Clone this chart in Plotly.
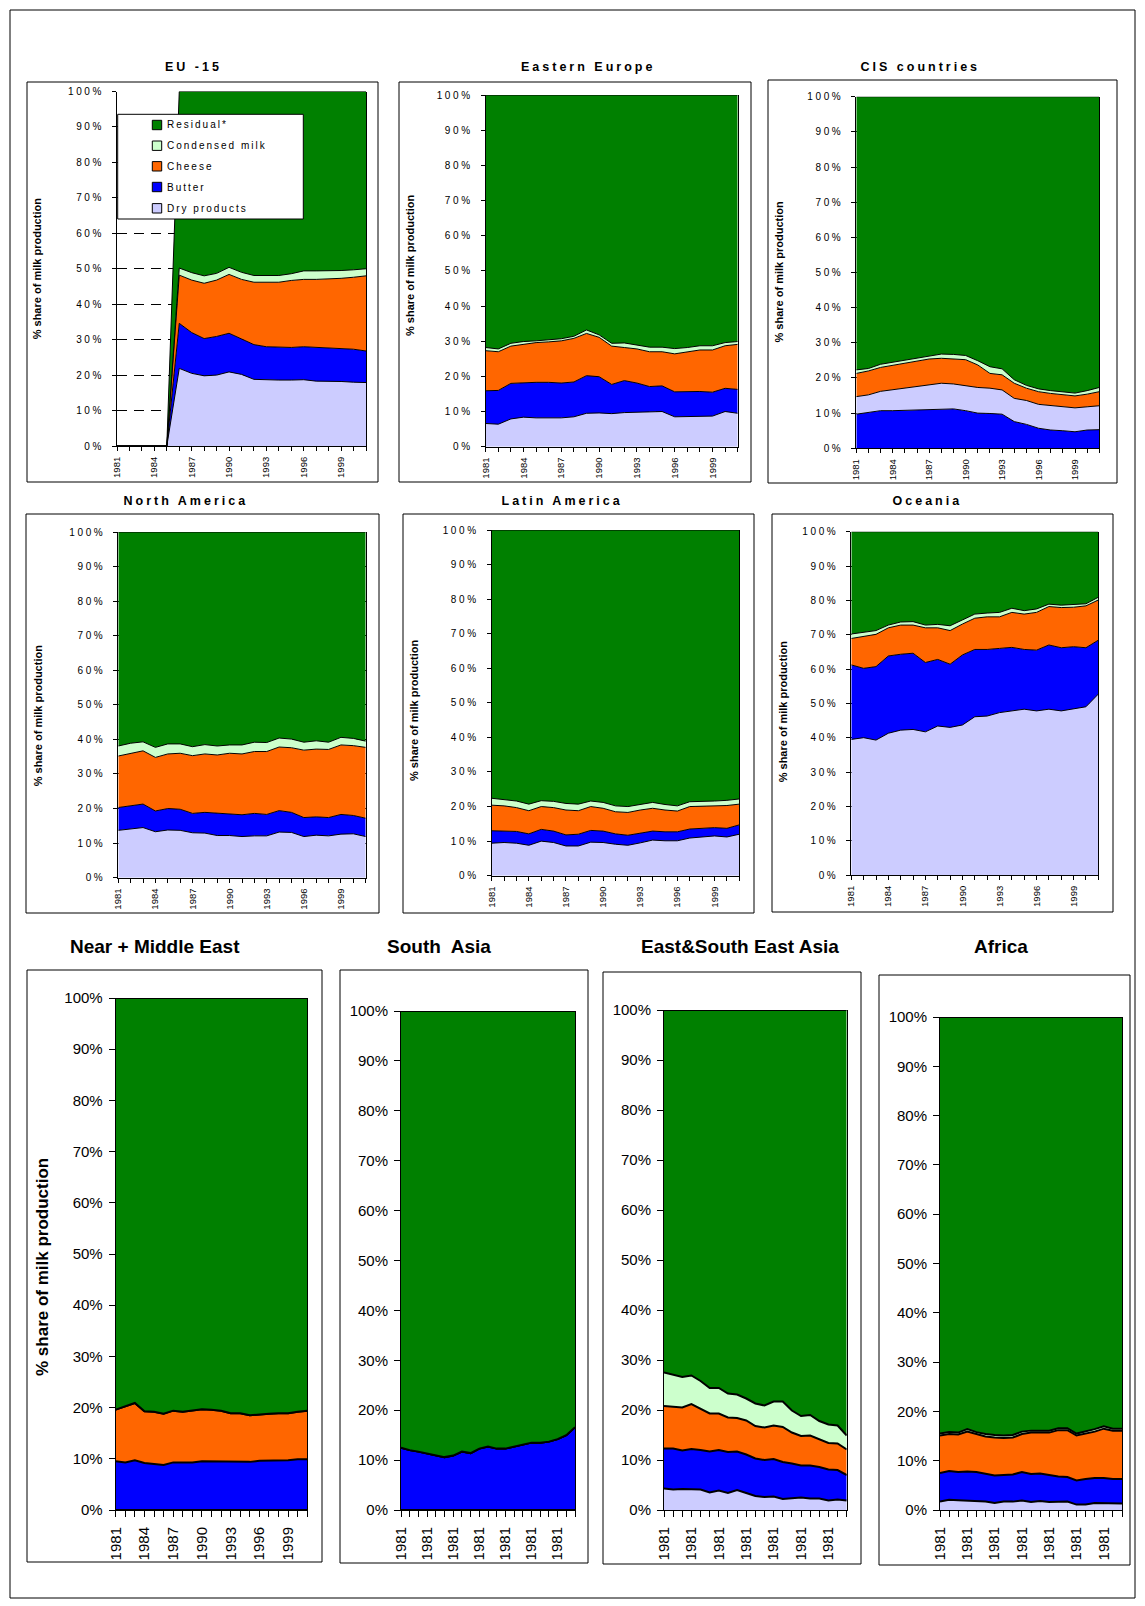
import plotly.graph_objects as go

W, H = 1145, 1606
FONT = "Arial, 'Liberation Sans', sans-serif"

YEARS = list(range(1981, 2002))
TICKS_YEARS = ["1981", "", "", "1984", "", "", "1987", "", "", "1990", "", "",
               "1993", "", "", "1996", "", "", "1999", "", ""]
TICKS_REPEAT = ["1981", "", "", "1981", "", "", "1981", "", "", "1981", "", "",
                "1981", "", "", "1981", "", "", "1981", "", ""]
PCT_VALS = [0, 10, 20, 30, 40, 50, 60, 70, 80, 90, 100]
PCT_TEXT = ["0%", "10%", "20%", "30%", "40%", "50%", "60%", "70%", "80%", "90%", "100%"]

SERIES = ["Residual*", "Condensed milk", "Cheese", "Butter", "Dry products"]
FILL = {
    "Dry products": "#CCCCFF",
    "Butter": "#0000FF",
    "Cheese": "#FF6600",
    "Condensed milk": "#CCFFCC",
    "Residual*": "#008000",
}

# ---- shares of milk production (%), 1981-2001 ----
eu15_dry = [0, 0, 0, 0, 0, 21.9, 20.5, 19.8, 20.0, 20.9, 20.2, 18.8, 18.6, 18.6, 18.6, 18.7, 18.3, 18.3, 18.2, 18.0, 17.9]
eu15_butter = [0, 0, 0, 0, 0, 12.7, 11.5, 10.5, 10.9, 10.9, 9.9, 9.8, 9.4, 9.2, 9.2, 9.3, 9.5, 9.4, 9.4, 9.3, 8.9]
eu15_cheese = [0, 0, 0, 0, 0, 13.6, 14.8, 15.6, 15.9, 16.6, 16.9, 17.6, 18.2, 18.4, 18.9, 19.0, 19.2, 19.4, 19.7, 20.3, 21.2]
eu15_condensed = [0, 0, 0, 0, 0, 2.0, 2.1, 2.1, 1.9, 2.0, 2.0, 1.9, 1.9, 1.9, 1.9, 2.4, 2.4, 2.3, 2.2, 2.1, 2.0]

ee_dry = [6.6, 6.4, 7.9, 8.4, 8.2, 8.2, 8.2, 8.5, 9.5, 9.6, 9.4, 9.7, 9.8, 10.0, 10.0, 8.5, 8.6, 8.7, 8.7, 10.0, 9.5]
ee_butter = [9.3, 9.6, 10.1, 9.8, 10.1, 10.1, 9.9, 9.9, 10.7, 10.3, 8.3, 9.1, 8.3, 7.1, 7.3, 7.1, 7.1, 7.0, 6.8, 6.6, 6.8]
ee_cheese = [11.4, 11.0, 10.6, 11.0, 11.3, 11.5, 12.0, 12.4, 12.0, 11.2, 10.9, 9.4, 9.7, 9.9, 9.7, 10.8, 11.3, 11.8, 12.0, 12.1, 12.8]
ee_condensed = [0.9, 0.8, 0.8, 0.7, 0.5, 0.6, 0.6, 0.6, 1.0, 0.7, 0.8, 1.3, 1.2, 1.3, 1.3, 1.5, 1.2, 1.2, 1.2, 0.9, 0.8]

cis_dry = [5.0, 5.1, 5.5, 6.0, 6.2, 6.5, 7.0, 7.2, 7.1, 7.1, 7.3, 7.2, 6.9, 6.6, 6.8, 6.8, 6.9, 6.7, 6.8, 6.6, 6.8]
cis_butter = [9.7, 10.1, 10.7, 10.7, 10.8, 11.0, 11.2, 11.3, 11.2, 10.7, 10.0, 9.9, 9.7, 7.6, 6.8, 5.7, 5.2, 5.0, 4.7, 5.2, 5.3]
cis_cheese = [6.6, 6.8, 6.8, 6.9, 7.4, 7.3, 7.2, 7.1, 7.2, 7.4, 6.4, 4.2, 4.3, 4.3, 3.5, 3.6, 3.5, 3.5, 3.4, 3.6, 4.0]
cis_condensed = [1.0, 0.7, 0.9, 0.9, 0.7, 0.9, 1.0, 1.2, 1.2, 1.2, 1.2, 1.9, 1.7, 1.0, 0.8, 0.8, 0.8, 0.8, 0.8, 1.0, 1.2]

na_dry = [13.7, 14.2, 14.5, 13.3, 13.8, 13.7, 13.0, 12.9, 12.2, 12.2, 11.9, 12.1, 12.1, 13.2, 13.1, 11.9, 12.3, 12.1, 12.6, 12.7, 11.9]
na_butter = [6.6, 6.7, 6.8, 6.0, 6.2, 6.1, 5.6, 6.0, 6.4, 6.3, 6.3, 6.5, 6.2, 6.2, 5.8, 5.5, 5.3, 5.3, 5.7, 5.3, 5.3]
na_cheese = [14.9, 15.1, 15.4, 15.5, 15.8, 16.2, 16.7, 16.9, 16.9, 17.5, 17.6, 17.9, 18.2, 18.4, 18.7, 19.5, 19.6, 19.7, 20.1, 20.2, 20.5]
na_condensed = [2.9, 2.9, 2.6, 2.9, 2.9, 2.7, 2.6, 2.7, 2.6, 2.4, 2.6, 2.7, 2.6, 2.6, 2.5, 2.3, 2.4, 2.1, 2.2, 2.1, 1.8]

la_dry = [9.4, 9.6, 9.4, 8.8, 10.0, 9.6, 8.6, 8.6, 9.7, 9.6, 9.1, 8.8, 9.5, 10.3, 10.1, 10.1, 10.9, 11.3, 11.5, 11.2, 12.0]
la_butter = [3.6, 3.4, 3.4, 3.3, 3.4, 3.3, 3.2, 3.4, 3.4, 3.3, 3.0, 2.9, 2.7, 2.6, 2.6, 2.6, 2.6, 2.4, 2.4, 2.5, 2.7]
la_cheese = [7.4, 7.2, 6.9, 6.7, 6.6, 6.8, 7.2, 6.8, 6.9, 6.6, 6.4, 6.6, 6.8, 6.6, 6.3, 6.0, 6.5, 6.4, 6.3, 6.6, 6.0]
la_condensed = [2.0, 1.9, 1.9, 1.9, 1.7, 1.8, 1.9, 1.9, 1.6, 1.7, 1.7, 1.7, 1.6, 1.7, 1.6, 1.5, 1.4, 1.3, 1.4, 1.5, 1.5]

oc_dry = [39.5, 40.0, 39.3, 41.3, 42.2, 42.4, 41.7, 43.4, 43.0, 43.7, 46.1, 46.3, 47.3, 47.9, 48.3, 47.8, 48.3, 47.8, 48.5, 49.0, 52.7]
oc_butter = [21.7, 20.2, 21.4, 22.5, 22.1, 22.2, 20.2, 19.4, 18.4, 20.4, 19.6, 19.4, 18.7, 18.4, 17.4, 17.7, 18.7, 18.4, 18.0, 17.2, 15.7]
oc_cheese = [7.7, 9.4, 9.4, 8.2, 8.5, 8.2, 10.1, 9.2, 9.8, 9.0, 9.1, 9.5, 9.2, 10.2, 10.3, 11.0, 11.2, 11.7, 11.5, 12.2, 11.7]
oc_condensed = [1.3, 1.1, 1.1, 0.8, 0.9, 1.0, 0.8, 1.0, 1.4, 1.2, 1.2, 1.1, 1.3, 1.2, 1.0, 1.0, 0.7, 0.7, 0.7, 0.6, 0.8]

nme_dry = [0] * 21
nme_butter = [9.5, 9.3, 9.7, 9.2, 9.0, 8.8, 9.3, 9.3, 9.3, 9.5, 9.5, 9.5, 9.4, 9.4, 9.4, 9.6, 9.6, 9.7, 9.7, 9.9, 9.9]
nme_cheese = [10.1, 11.0, 11.2, 10.1, 10.2, 10.0, 10.1, 9.9, 10.2, 10.2, 10.1, 9.9, 9.5, 9.5, 9.1, 9.1, 9.2, 9.2, 9.2, 9.3, 9.5]
nme_condensed = [0] * 21

sa_dry = [0] * 21
sa_butter = [12.5, 12.0, 11.7, 11.3, 10.9, 10.6, 10.9, 11.7, 11.4, 12.3, 12.7, 12.3, 12.3, 12.7, 13.0, 13.5, 13.5, 13.7, 14.2, 15.0, 16.6]
sa_cheese = [0] * 21
sa_condensed = [0] * 21

esea_dry = [4.3, 4.1, 4.2, 4.1, 4.1, 3.5, 3.9, 3.4, 4.0, 3.4, 2.8, 2.6, 2.7, 2.2, 2.3, 2.5, 2.3, 2.3, 1.9, 2.1, 1.9]
esea_butter = [8.0, 8.2, 7.7, 8.1, 7.9, 8.2, 8.1, 8.2, 7.7, 7.7, 7.5, 7.4, 7.5, 7.4, 7.0, 6.4, 6.6, 6.3, 6.2, 5.9, 5.1]
esea_cheese = [8.5, 8.3, 8.6, 9.0, 8.2, 7.6, 7.3, 6.9, 6.7, 6.8, 6.5, 6.5, 6.7, 7.0, 6.2, 5.9, 6.0, 5.6, 5.3, 5.3, 5.1]
esea_condensed = [6.7, 6.5, 6.1, 5.7, 5.6, 5.1, 5.1, 4.8, 4.7, 4.4, 4.5, 4.4, 4.8, 5.1, 4.4, 4.0, 4.1, 3.6, 3.7, 3.6, 2.8]

af_dry = [1.7, 2.1, 2.0, 1.9, 1.9, 1.7, 1.4, 1.7, 1.7, 1.9, 1.6, 1.8, 1.6, 1.6, 1.7, 1.1, 1.1, 1.4, 1.4, 1.3, 1.3]
af_butter = [5.8, 5.8, 5.7, 5.9, 5.8, 5.6, 5.6, 5.4, 5.5, 5.8, 5.7, 5.6, 5.5, 5.2, 5.0, 4.9, 5.2, 5.1, 5.1, 5.0, 5.0]
af_cheese = [7.6, 7.5, 7.6, 8.1, 7.7, 7.6, 7.7, 7.5, 7.5, 7.7, 8.4, 8.3, 8.6, 9.4, 9.5, 9.1, 9.2, 9.4, 10.0, 9.8, 9.8]
af_condensed = [0.4, 0.4, 0.4, 0.5, 0.4, 0.5, 0.5, 0.5, 0.5, 0.5, 0.4, 0.4, 0.4, 0.4, 0.4, 0.4, 0.4, 0.5, 0.5, 0.4, 0.4]

STACK = ["Dry products", "Butter", "Cheese", "Condensed milk", "Residual*"]
STACK_CIS = ["Butter", "Dry products", "Cheese", "Condensed milk", "Residual*"]


def residual(parts):
    """Remaining share of milk not processed into the listed products."""
    out = []
    for col in zip(*parts):
        total = sum(col)
        out.append(round(100 - total, 1) if total > 0 else 0)
    return out


# layout boxes in page pixels: plot area (l, t, r, b), frame (l, t, r, b)
panels = [
    dict(title="EU -15", d=(eu15_dry, eu15_butter, eu15_cheese, eu15_condensed), order=STACK,
         plot=(117, 91.5, 366, 446), box=(27, 82, 378, 482), t=(193, 66.5), yt=(37.3, 269),
         big=False, xt=TICKS_YEARS),
    dict(title="Eastern Europe", d=(ee_dry, ee_butter, ee_cheese, ee_condensed), order=STACK,
         plot=(485.7, 95, 737.7, 446.7), box=(399, 82, 751, 482), t=(588, 67), yt=(410, 266),
         big=False, xt=TICKS_YEARS),
    dict(title="CIS countries", d=(cis_dry, cis_butter, cis_cheese, cis_condensed), order=STACK_CIS,
         plot=(856.3, 96.7, 1099.3, 448.3), box=(768, 80, 1117, 483), t=(920, 67), yt=(778, 272.5),
         big=False, xt=TICKS_YEARS),
    dict(title="North America", d=(na_dry, na_butter, na_cheese, na_condensed), order=STACK,
         plot=(118.3, 532, 365.7, 877.7), box=(26, 514, 379, 913), t=(186.7, 500.7), yt=(38.3, 716),
         big=False, xt=TICKS_YEARS),
    dict(title="Latin America", d=(la_dry, la_butter, la_cheese, la_condensed), order=STACK,
         plot=(491.7, 530, 739.3, 875.7), box=(403, 514, 754, 913), t=(562.7, 500.7), yt=(414, 711),
         big=False, xt=TICKS_YEARS),
    dict(title="Oceania", d=(oc_dry, oc_butter, oc_cheese, oc_condensed), order=STACK,
         plot=(851.3, 531.7, 1098.3, 875), box=(772, 514, 1113, 912), t=(927.7, 500.7), yt=(783.3, 712),
         big=False, xt=TICKS_YEARS),
    dict(title="Near + Middle East", d=(nme_dry, nme_butter, nme_cheese, nme_condensed), order=STACK,
         plot=(115.7, 998, 307.3, 1510), box=(27, 970, 322, 1562), t=(155, 946), yt=(42, 1267),
         big=True, xt=TICKS_YEARS),
    dict(title="South  Asia", d=(sa_dry, sa_butter, sa_cheese, sa_condensed), order=STACK,
         plot=(401, 1011, 575, 1510), box=(340, 970, 588, 1563), t=(439, 946), yt=None,
         big=True, xt=TICKS_REPEAT),
    dict(title="East&South East Asia", d=(esea_dry, esea_butter, esea_cheese, esea_condensed), order=STACK,
         plot=(664, 1010, 846.7, 1510), box=(603, 972, 861, 1564), t=(740, 946), yt=None,
         big=True, xt=TICKS_REPEAT),
    dict(title="Africa", d=(af_dry, af_butter, af_cheese, af_condensed), order=STACK,
         plot=(940, 1017, 1122, 1510), box=(879, 975, 1130, 1565), t=(1001, 946), yt=None,
         big=True, xt=TICKS_REPEAT),
]


def px(x):
    return x / W


def py(y):
    return 1 - y / H


fig = go.Figure()
shapes = []
annotations = []
axes = {}

for k, p in enumerate(panels, start=1):
    sfx = "" if k == 1 else str(k)
    dry, butter, cheese, condensed = p["d"]
    values = {
        "Dry products": dry,
        "Butter": butter,
        "Cheese": cheese,
        "Condensed milk": condensed,
        "Residual*": residual([dry, butter, cheese, condensed]),
    }
    lw = 2 if p["big"] else 1
    for name in p["order"]:
        fig.add_trace(go.Scatter(
            x=YEARS, y=values[name], name=name, mode="lines",
            stackgroup=f"g{k}", fillcolor=FILL[name],
            line=dict(color="black", width=lw),
            xaxis="x" + sfx, yaxis="y" + sfx,
            showlegend=False, hoverinfo="skip",
        ))

    l, t, r, b = p["plot"]
    big = p["big"]
    xa = dict(
        domain=[px(l), px(r)], anchor="y" + sfx, range=[1981, 2001], automargin=False,
        tickmode="array", tickvals=YEARS, ticktext=p["xt"], tickangle=-90,
        ticks="outside", ticklen=6 if big else 4, tickcolor="black", tickwidth=1,
        tickfont=dict(size=15 if big else 9.5, color="black", family=FONT),
        ticklabelstandoff=4 if big else 2,
        showline=True, linecolor="black", linewidth=1, mirror=False,
        showgrid=False, zeroline=False, fixedrange=True,
    )
    ya = dict(
        domain=[py(b), py(t)], anchor="x" + sfx, range=[0, 100], automargin=False,
        tickmode="array", tickvals=PCT_VALS, ticktext=PCT_TEXT,
        ticks="outside", ticklen=6 if big else 4, tickcolor="black", tickwidth=1,
        tickfont=dict(size=15 if big else 10, color="black", family=FONT),
        ticklabelstandoff=3 if big else 6,
        showline=True, linecolor="black", linewidth=1, mirror=True,
        showgrid=not big, gridcolor="black", gridwidth=1, griddash="10px,7px",
        zeroline=False, fixedrange=True,
    )
    axes["xaxis" + sfx] = xa
    axes["yaxis" + sfx] = ya

    bl, bt, br, bb = p["box"]
    shapes.append(dict(type="rect", xref="paper", yref="paper",
                       x0=px(bl), x1=px(br), y0=py(bb), y1=py(bt),
                       line=dict(color="black", width=1), fillcolor="rgba(0,0,0,0)",
                       layer="below"))

# panel titles: the six small ones first (letter-spaced by the page script)
for p in panels:
    tx, ty = p["t"]
    annotations.append(dict(
        text=p["title"], xref="paper", yref="paper", x=px(tx), y=py(ty),
        xanchor="center", yanchor="middle", showarrow=False,
        font=dict(size=19 if p["big"] else 12.5, family=FONT, color="black", weight="bold"),
    ))

# legend of the EU-15 panel, drawn as a framed key
LEG_BOX = (117.7, 114.3, 303.3, 219)
LEG_ROWS = [125, 145.7, 166.3, 187, 208.3]
shapes.append(dict(type="rect", xref="paper", yref="paper",
                   x0=px(LEG_BOX[0]), x1=px(LEG_BOX[2]), y0=py(LEG_BOX[3]), y1=py(LEG_BOX[1]),
                   line=dict(color="black", width=1), fillcolor="white", layer="above"))
legend_labels = []
for name, yy in zip(SERIES, LEG_ROWS):
    shapes.append(dict(type="rect", xref="paper", yref="paper",
                       x0=px(152.3), x1=px(161.7), y0=py(yy + 4.7), y1=py(yy - 4.7),
                       line=dict(color="black", width=1), fillcolor=FILL[name], layer="above"))
    legend_labels.append(dict(
        text=name, xref="paper", yref="paper", x=px(165), y=py(yy),
        xanchor="left", yanchor="middle", showarrow=False,
        font=dict(size=10, family=FONT, color="black"),
    ))
# keep the small titles (0-5) and legend labels (6-10) at the front
annotations = annotations[:6] + legend_labels + annotations[6:]

# y-axis titles
for p in panels:
    if p["yt"] is None:
        continue
    yx, yy = p["yt"]
    annotations.append(dict(
        text="% share of milk production", xref="paper", yref="paper",
        x=px(yx), y=py(yy), xanchor="center", yanchor="middle", textangle=-90,
        showarrow=False,
        font=dict(size=17 if p["big"] else 11, family=FONT, color="black", weight="bold"),
    ))

# outer frame of the page
shapes.append(dict(type="rect", xref="paper", yref="paper",
                   x0=px(10), x1=px(1135), y0=py(1598), y1=py(10),
                   line=dict(color="black", width=1), fillcolor="rgba(0,0,0,0)", layer="below"))

fig.update_layout(
    template="none",
    width=W, height=H, autosize=False,
    margin=dict(l=0, r=0, t=0, b=0, pad=0, autoexpand=False),
    paper_bgcolor="white", plot_bgcolor="white",
    font=dict(family=FONT, color="black"),
    showlegend=False,
    shapes=shapes, annotations=annotations,
    **axes,
)

SPACING_JS = """
document.body.style.margin = '0';
var gd = document.getElementById('{plot_id}');
try {
  ['y', 'y2', 'y3', 'y4', 'y5', 'y6'].forEach(function (a) {
    gd.querySelectorAll('g.' + a + 'tick text').forEach(function (t) {
      t.style.letterSpacing = '2.6px';
    });
  });
  gd.querySelectorAll('g.annotation').forEach(function (g) {
    var i = +g.getAttribute('data-index');
    var t = g.querySelector('text');
    if (!t || i > 10) return;
    var w0 = t.getComputedTextLength();
    t.style.letterSpacing = (i < 6 ? 3 : 2) + 'px';
    var w1 = t.getComputedTextLength();
    if (i >= 6) {
      var x = parseFloat(t.getAttribute('x') || '0');
      t.setAttribute('x', x + (w1 - w0) / 2);
    }
  });
} catch (e) {}
"""

fig.write_html("out.html", config={"displayModeBar": False}, post_script=SPACING_JS)
